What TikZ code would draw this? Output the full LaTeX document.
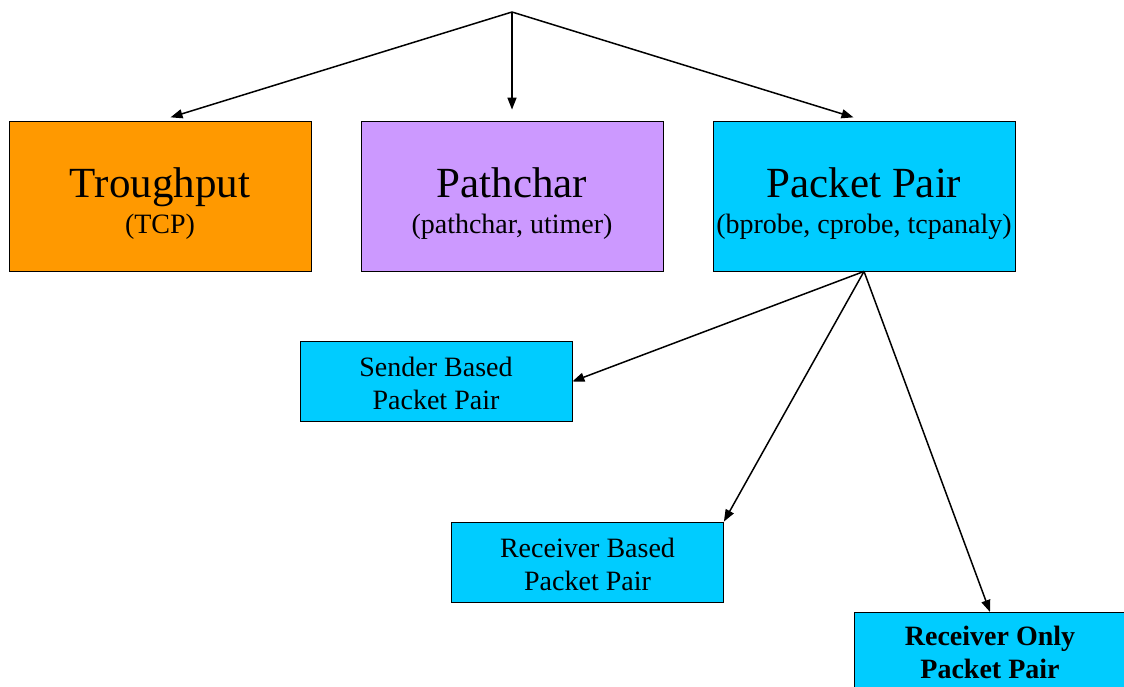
\documentclass[tikz,border=0pt]{standalone}
\usepackage{fontspec}
\setmainfont{Liberation Serif}
\usetikzlibrary{arrows.meta}

\definecolor{tporange}{HTML}{FF9900}
\definecolor{pcpurple}{HTML}{CC99FF}
\definecolor{ppcyan}{HTML}{00CCFF}

\tikzset{
    bigbox/.style={draw=black, line width=0.8pt, minimum width=302pt, minimum height=150pt, inner sep=0pt, align=center, font=\fontsize{43}{44}\selectfont},
    smallbox/.style={draw=black, line width=0.8pt, minimum width=272pt, minimum height=80pt, inner sep=0pt, align=center, font=\fontsize{28}{33}\selectfont},
    link/.style={line width=1.5pt, -{Triangle[length=12pt, width=9pt]}}
}
\newcommand{\subline}[1]{{\fontsize{28}{30}\selectfont #1}}

\begin{document}
\begin{tikzpicture}[x=1pt, y=-1pt]
        \useasboundingbox (0,0) rectangle (1124,686);
        \clip (0,0) rectangle (1124,686);

        \coordinate (apex) at (512,12);

        \node[bigbox, fill=tporange] (tp) at (160,196) {\rule{0pt}{45pt}Troughput\\[-8pt] \subline{(TCP)}};
        \node[bigbox, fill=pcpurple] (pc) at (512,196) {\rule{0pt}{45pt}Pathchar\\[-8pt] \subline{(pathchar, utimer)}};
        \node[bigbox, fill=ppcyan] (pp) at (864,196) {\rule{0pt}{45pt}Packet Pair\\[-8pt] \subline{(bprobe, cprobe, tcpanaly)}};

        \node[smallbox, fill=ppcyan] (sb) at (436,381.5) {\rule{0pt}{24pt}Sender Based\\ Packet Pair};
        \node[smallbox, fill=ppcyan] (rb) at (587.5,562) {\rule{0pt}{24pt}Receiver Based\\ Packet Pair};
        \node[smallbox, fill=ppcyan, anchor=north] (ro) at (990,612) {\rule{0pt}{33pt}\textbf{Receiver Only}\\ \textbf{Packet Pair}\\ \strut};

        \draw[link, shorten >=11pt] (apex) -- (tp.north);
        \draw[link, shorten >=11pt] (apex) -- (pc.north);
        \draw[link, shorten >=11pt] (apex) -- (pp.north);

        \draw[link] (pp.south) -- (sb.east);
        \draw[link] (pp.south) -- (rb.north east);
        \draw[link] (pp.south) -- (ro.north);
    \end{tikzpicture}
\end{document}
